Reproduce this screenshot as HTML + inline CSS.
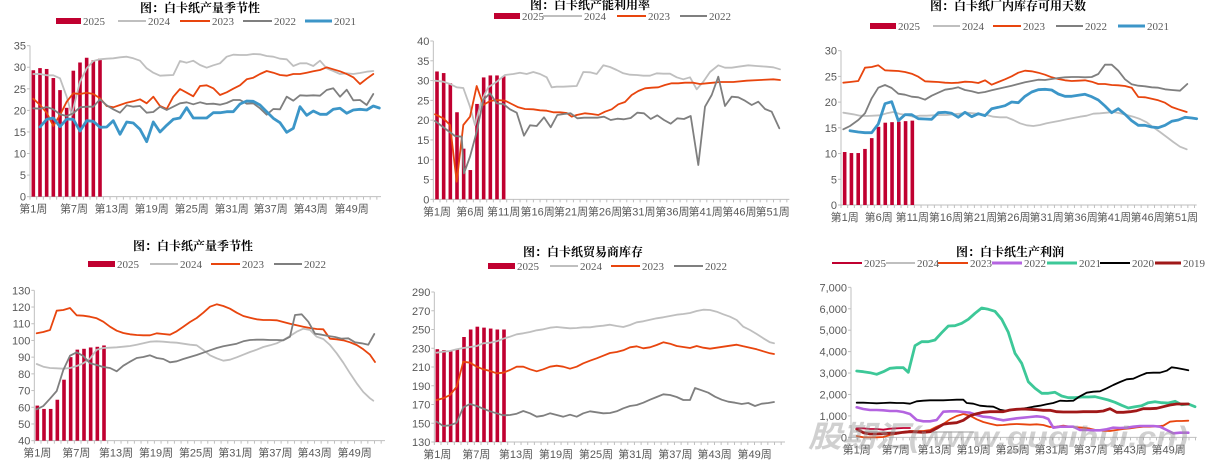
<!DOCTYPE html>
<html><head><meta charset="utf-8">
<style>
html,body{margin:0;padding:0;background:#fff;}
svg{display:block;}
.t{font-family:"Liberation Sans","Noto Sans CJK SC",sans-serif;font-size:11px;fill:#595959;}
.lg{font-family:"Liberation Serif","Noto Serif CJK SC",serif;font-size:11px;fill:#595959;}
.ti{font-family:"Liberation Serif","Noto Serif CJK SC",serif;font-size:12px;font-weight:bold;fill:#000;}
</style></head>
<body>
<svg id="s" width="1207" height="466" xmlns="http://www.w3.org/2000/svg"></svg>
<script>
const S=document.getElementById('s');let h='';
const C={r:'#C00030',g:'#BFBFBF',o:'#E8450E',d:'#7F7F7F',b:'#3C96C8',p:'#B464E0',gr:'#3DC898',k:'#000',dr:'#A01818'};
function pl(ox,oy,a,col,w){let s='';for(let i=0;i<a.length;i+=2)s+=(ox+a[i]/3).toFixed(1)+','+(oy+a[i+1]/3).toFixed(1)+' ';
h+=`<polyline points="${s}" fill="none" stroke="${col}" stroke-width="${w}" stroke-linejoin="round" stroke-linecap="round"/>`;}
function panel(c){
 const {ox,oy,axL,axR,yT,yB,vT,vB,step,xl,fmt}=c;
 const L=ox+axL/3,R=ox+axR/3,T=oy+yT/3,B=oy+yB/3;
 h+=`<line x1="${L}" y1="${T}" x2="${L}" y2="${B}" stroke="#BFBFBF" stroke-width="1"/>`;
 h+=`<line x1="${L}" y1="${B}" x2="${R}" y2="${B}" stroke="#BFBFBF" stroke-width="1"/>`;
 for(let v=vB;v<=vT+1e-9;v+=step){const y=B-(v-vB)/(vT-vB)*(B-T);
  h+=`<line x1="${L-3}" y1="${y}" x2="${L}" y2="${y}" stroke="#BFBFBF"/>`;
  h+=`<text class="t" x="${L-4}" y="${y+4}" text-anchor="end">${fmt?v.toLocaleString('en-US'):v}</text>`;}
 for(let x=L;x<=R+0.1;x+=c.dx||6.67)h+=`<line x1="${x}" y1="${B}" x2="${x}" y2="${B+3}" stroke="#BFBFBF"/>`;
 xl.forEach(([x,t])=>h+=`<text class="t" x="${ox+x/3}" y="${B+16}" text-anchor="middle">${t}</text>`);
 if(c.bars){const bw=3.6;c.bars.forEach((v,i)=>{const x=ox+(c.bx0+i*c.bdx)/3;const y=B-(v-vB)/(vT-vB)*(B-T);
  h+=`<rect x="${x-bw/2}" y="${y}" width="${bw}" height="${B-y}" fill="${C.r}"/>`;});}
 h+=`<text class="ti" x="${c.tx}" y="${c.ty}" text-anchor="middle">${c.title}</text>`;
 c.leg.forEach(([x1,x2,col,w,txt,bar])=>{const y=c.ly;
  if(bar)h+=`<rect x="${x1}" y="${y-3}" width="${x2-x1}" height="6" fill="${col}"/>`;
  else h+=`<line x1="${x1}" y1="${y}" x2="${x2}" y2="${y}" stroke="${col}" stroke-width="${w}"/>`;
  h+=`<text class="lg" x="${x2+2}" y="${y+4}">${txt}</text>`;});
}
const wk=(arr)=>arr.map(n=>'第'+n+'周');
// Panel 1
panel({ox:0,oy:0,axL:90,axR:1143,yT:137,yB:590,vT:35,vB:0,step:5,title:'图：白卡纸产量季节性',tx:200,ty:12,ly:21,
 xl:[[100,'第1周'],[222,'第7周'],[335,'第13周'],[455,'第19周'],[575,'第25周'],[695,'第31周'],[812,'第37周'],[932,'第43周'],[1055,'第49周']],
 bars:[29.3,29.8,29.6,27.5,24.7,20.6,29.2,31.1,32.2,31.6,32],bx0:100,bdx:20,
 leg:[[56,81,C.r,0,'2025',1],[118,146,C.g,2,'2024'],[180,210,C.o,2,'2023'],[243,272,C.d,2,'2022'],[305,332,C.b,3,'2021']]});
pl(0,0,[100,222,120,222,140,226,160,226,180,235,200,290,215,345,240,245,260,205,280,183,300,178,320,176,340,175,360,172,380,170,400,175,420,182,440,205,460,218,480,227,500,226,520,225,540,183,560,188,580,182,600,195,620,203,640,196,660,190,680,170,700,164,720,165,740,165,760,162,780,163,800,168,820,170,840,176,860,178,880,198,900,190,920,190,940,198,960,182,980,205,1000,213,1020,222,1040,220,1060,222,1080,219,1100,215,1120,213],C.g,1.8);
pl(0,0,[100,296,120,315,140,338,160,378,180,345,200,305,220,280,240,282,260,278,280,282,300,295,320,318,340,322,360,315,380,308,400,304,420,298,440,310,460,290,480,318,500,327,520,290,540,267,560,278,580,289,600,258,620,256,640,265,660,285,680,277,700,266,720,256,740,238,760,233,780,222,800,213,820,218,840,225,860,227,880,222,900,222,920,218,940,214,960,210,980,202,1000,208,1020,214,1040,222,1060,232,1080,252,1100,236,1120,222],C.o,1.8);
pl(0,0,[100,325,120,326,140,321,160,328,180,343,200,348,220,340,240,322,260,320,280,320,300,298,320,316,340,328,360,338,380,316,400,320,420,318,440,338,460,336,480,320,500,330,520,320,540,310,560,307,580,313,600,307,620,312,640,311,660,314,680,309,700,300,720,300,740,311,760,310,780,325,800,344,820,327,840,328,860,290,880,302,900,286,920,287,940,286,960,287,980,270,1000,265,1020,290,1040,269,1060,301,1080,300,1100,315,1120,282],C.d,1.8);
pl(0,0,[120,381,140,358,160,354,180,380,200,357,220,358,240,393,260,362,280,364,300,382,320,381,340,362,360,403,380,366,400,369,420,388,440,425,460,366,480,396,500,376,520,358,540,354,560,323,580,354,600,354,620,354,640,338,660,338,680,335,700,335,720,312,740,303,760,304,780,315,800,335,820,355,840,368,860,397,880,385,900,320,920,346,940,333,960,343,980,343,1000,328,1020,325,1040,340,1060,330,1080,328,1100,330,1120,318,1138,324],C.b,2.8);
// Panel 2
panel({ox:400,oy:0,axL:100,axR:1168,yT:123,yB:598,vT:40,vB:0,step:5,title:'图：白卡纸产能利用率',tx:590,ty:9,ly:16,
 xl:[[111,'第1周'],[211,'第6周'],[311,'第11周'],[413,'第16周'],[513,'第21周'],[615,'第26周'],[715,'第31周'],[817,'第36周'],[917,'第41周'],[1018,'第46周'],[1118,'第51周']],
 bars:[32.3,31.9,29.3,22,12.8,7.4,24.1,30.8,31.3,31.3,31.1],bx0:111,bdx:20,
 leg:[[494,520,C.r,0,'2025',1],[543,582,C.g,2,'2024'],[617,646,C.o,2,'2023'],[680,707,C.d,2,'2022']]});
pl(400,0,[105,242,130,245,150,252,170,262,190,264,210,320,225,375,245,300,265,262,290,245,315,225,340,222,360,218,380,222,400,216,420,222,440,232,455,262,470,260,490,260,510,259,530,258,550,216,570,217,590,222,610,196,630,201,650,210,670,220,690,224,710,225,730,227,750,227,770,220,790,221,810,221,830,232,850,238,870,232,890,268,910,245,930,216,955,196,975,203,995,203,1015,200,1045,196,1070,198,1100,200,1120,202,1140,208],C.g,1.8);
pl(400,0,[105,343,130,355,150,375,170,545,190,375,210,350,230,258,250,315,270,303,290,300,315,302,335,312,355,322,375,327,400,328,420,331,440,332,460,337,480,337,500,339,515,350,530,345,555,340,575,342,595,345,615,335,635,328,655,313,675,306,695,285,715,273,735,265,755,263,775,262,795,255,815,250,835,250,855,248,880,248,900,252,920,250,940,248,960,246,1000,246,1040,242,1080,240,1120,238,1140,240],C.o,1.8);
pl(400,0,[105,363,125,378,145,393,165,408,185,410,192,520,210,470,230,395,250,300,270,280,290,310,310,312,330,328,350,338,372,407,390,376,410,378,432,352,452,382,472,345,492,342,512,340,532,355,552,353,572,353,592,353,612,350,632,360,652,356,672,358,692,354,712,338,732,340,752,357,772,346,792,360,812,371,832,355,852,357,872,348,895,495,915,320,935,285,955,230,975,318,995,290,1015,292,1035,302,1055,315,1075,305,1095,327,1115,335,1138,385],C.d,1.8);
// Panel 3
panel({ox:800,oy:0,axL:123,axR:1190,yT:152,yB:615,vT:30,vB:0,step:5,title:'图：白卡纸厂内库存可用天数',tx:1008,ty:10,ly:26,
 xl:[[134,'第1周'],[236,'第6周'],[337,'第11周'],[438,'第16周'],[540,'第21周'],[640,'第26周'],[740,'第31周'],[842,'第36周'],[942,'第41周'],[1043,'第46周'],[1143,'第51周']],
 bars:[10.3,10.1,10.1,10.9,13,15.2,16,16.1,16.2,16.3,16.4],bx0:134,bdx:20.3,
 leg:[[870,896,C.r,0,'2025',1],[933,960,C.g,2,'2024'],[993,1021,C.o,2,'2023'],[1056,1083,C.d,2,'2022'],[1118,1145,C.b,3,'2021']]});
pl(800,0,[130,338,160,343,180,347,200,348,220,347,240,346,260,340,280,336,300,342,320,345,340,350,360,347,380,347,400,346,420,345,440,345,460,343,480,341,500,338,520,340,540,342,560,345,580,350,600,352,620,352,640,360,660,370,680,376,700,378,720,375,740,370,760,366,780,362,800,358,820,354,840,350,860,347,880,341,900,340,920,338,940,336,960,340,980,345,1000,350,1020,357,1040,367,1060,382,1080,396,1100,411,1120,426,1140,440,1160,448],C.g,1.8);
pl(800,0,[130,248,150,246,175,243,195,203,215,201,235,196,255,211,275,212,295,213,315,216,335,221,355,230,375,244,395,245,415,246,435,248,455,249,475,248,495,245,515,246,535,249,555,241,575,254,595,246,615,238,635,229,655,218,675,212,695,214,715,218,735,224,755,232,775,237,795,241,815,243,835,242,855,241,875,245,895,252,915,252,935,255,955,256,975,258,995,263,1015,291,1035,292,1055,296,1075,301,1095,308,1115,321,1135,328,1160,336],C.o,1.8);
pl(800,0,[130,388,150,378,175,360,195,340,215,295,235,263,255,255,275,264,295,281,315,284,335,290,355,292,375,299,395,287,415,278,435,269,455,266,475,262,495,270,515,274,535,279,555,276,575,271,595,266,615,262,635,257,655,252,675,247,695,243,715,239,735,240,755,237,775,234,795,232,815,231,835,231,855,232,875,231,895,222,915,194,935,194,955,212,975,238,995,253,1015,257,1035,259,1055,262,1075,263,1095,268,1115,270,1140,272,1162,252],C.d,1.8);
pl(800,0,[150,392,175,396,195,398,215,398,235,372,255,311,275,305,295,362,315,344,335,344,355,356,375,357,395,358,415,338,435,337,455,340,475,352,495,337,515,350,535,341,555,347,575,326,595,322,615,317,635,306,655,308,675,289,695,276,715,269,735,268,755,270,775,282,795,289,815,289,835,286,855,283,875,290,895,300,915,318,935,338,955,326,975,343,995,362,1015,376,1035,376,1055,381,1075,383,1095,376,1115,364,1135,360,1155,352,1175,354,1190,356],C.b,2.8);
// Panel 4
panel({ox:0,oy:230,axL:103,axR:1155,yT:181,yB:632,vT:130,vB:40,step:10,title:'图：白卡纸产量季节性',tx:193,ty:250,ly:264,
 xl:[[112,'第1周'],[229,'第7周'],[348,'第13周'],[468,'第19周'],[588,'第25周'],[706,'第31周'],[826,'第37周'],[944,'第43周'],[1064,'第49周']],
 bars:[61,59,59,64.5,76.5,90,94.5,95,95.8,96.2,97],bx0:112,bdx:20,
 leg:[[88,115,C.r,0,'2025',1],[150,178,C.g,2,'2024'],[211,240,C.o,2,'2023'],[274,302,C.d,2,'2022']]});
pl(0,230,[110,402,130,410,150,414,170,415,190,416,210,414,230,408,250,400,270,386,290,359,310,354,330,353,350,352,370,350,390,348,410,344,430,340,450,335,470,334,490,335,510,337,530,338,550,341,570,344,590,346,610,360,630,376,650,385,670,392,690,389,710,382,730,374,750,366,770,359,790,351,810,346,830,340,850,330,870,318,890,305,910,296,930,300,950,320,970,327,990,345,1010,370,1030,398,1050,430,1070,460,1090,486,1110,505,1120,512],C.g,1.8);
pl(0,230,[110,310,130,306,150,300,170,242,190,240,210,234,230,256,250,257,270,260,290,265,310,275,330,290,350,302,370,309,390,313,410,315,430,316,450,316,470,310,490,312,510,314,530,304,550,290,570,276,590,264,610,248,630,230,650,223,670,228,690,236,710,248,730,258,750,263,770,268,790,270,810,270,830,271,850,276,870,281,890,286,910,290,930,294,950,297,970,298,990,326,1010,328,1030,331,1050,337,1070,345,1090,358,1110,374,1125,396],C.o,1.8);
pl(0,230,[110,538,130,528,150,506,170,483,190,420,210,377,230,367,250,378,270,400,290,405,310,411,330,414,350,424,370,407,390,395,410,384,430,381,450,376,470,384,490,387,510,397,530,394,550,387,570,381,590,375,610,368,630,361,650,354,670,349,690,345,710,341,730,334,750,330,770,329,790,329,810,330,830,330,850,331,870,320,885,255,905,253,925,275,945,311,965,314,985,318,1005,321,1025,326,1045,325,1065,337,1085,340,1105,344,1123,312],C.d,1.8);
// Panel 5
panel({ox:400,oy:230,axL:103,axR:1155,yT:186,yB:636,vT:290,vB:130,step:20,title:'图：白卡纸贸易商库存',tx:583,ty:256,ly:266,
 xl:[[112,'第1周'],[229,'第7周'],[348,'第13周'],[468,'第19周'],[588,'第25周'],[706,'第31周'],[826,'第37周'],[944,'第43周'],[1064,'第49周']],
 bars:[229,228,227,229,242,250,253,252,251,250,250],bx0:112,bdx:20,
 leg:[[488,515,C.r,0,'2025',1],[550,578,C.g,2,'2024'],[611,640,C.o,2,'2023'],[674,703,C.d,2,'2022']]});
pl(400,230,[110,368,130,365,150,363,170,358,190,354,210,351,230,348,250,340,270,338,290,334,310,326,330,320,350,313,370,310,390,306,410,301,430,298,450,293,470,291,490,293,510,295,530,294,550,292,570,292,590,289,610,287,630,284,650,288,670,291,690,285,710,277,730,274,750,269,770,265,790,262,810,258,830,254,850,252,870,249,890,243,910,239,930,240,950,245,970,253,990,260,1010,270,1030,290,1050,300,1070,312,1090,325,1110,337,1122,340],C.g,1.8);
pl(400,230,[110,510,130,505,150,495,170,470,190,395,210,398,230,410,250,418,270,423,290,430,310,428,330,420,350,410,370,410,390,418,410,424,430,418,450,410,470,407,490,410,510,416,530,410,550,400,570,392,590,385,610,377,630,369,650,366,670,361,690,352,710,349,730,355,750,352,770,345,790,337,810,341,830,348,850,351,870,354,890,348,910,353,930,356,950,353,970,350,990,347,1010,344,1030,349,1050,353,1070,358,1090,364,1110,370,1122,372],C.o,1.8);
pl(400,230,[110,575,130,588,150,586,170,578,190,532,210,522,230,528,250,536,270,544,290,550,310,556,330,555,350,551,370,543,390,550,410,560,430,557,450,550,470,555,490,560,510,554,530,560,550,550,570,544,590,547,610,550,630,549,650,544,670,535,690,528,710,525,730,518,750,509,770,501,790,493,810,495,830,501,850,510,870,510,885,474,905,481,925,488,945,500,965,509,985,515,1005,518,1025,522,1045,519,1065,528,1085,521,1105,519,1122,516],C.d,1.8);
// Panel 6
panel({ox:800,oy:230,axL:153,axR:1190,yT:172,yB:622,vT:7000,vB:0,step:1000,fmt:1,dx:6.5,title:'图：白卡纸生产利润',tx:1010,ty:256,ly:263,
 xl:[[170,'第1周'],[287,'第7周'],[404,'第13周'],[521,'第19周'],[638,'第25周'],[755,'第31周'],[872,'第37周'],[989,'第43周'],[1106,'第49周']],
 leg:[[832,862,C.r,2,'2025'],[886,915,C.g,2,'2024'],[938,968,C.o,2,'2023'],[992,1022,C.p,3,'2022'],[1047,1077,C.gr,3,'2021'],[1100,1130,C.k,2,'2020'],[1155,1181,C.dr,3,'2019']]});
pl(800,230,[170,604,250,606,350,606,450,606,520,606],C.g,1.5);
pl(800,230,[170,618,190,622,210,622,230,622,250,621,270,615,290,611,310,606,330,603,350,603,370,603,390,600,410,590,430,582,450,568,470,558,490,552,510,557,530,568,550,576,570,581,590,586,610,585,630,583,650,582,670,583,690,584,710,583,730,585,750,591,770,590,790,587,810,590,830,592,850,593,870,596,890,601,910,602,930,603,950,600,970,597,990,595,1010,592,1030,590,1050,590,1070,589,1090,587,1110,575,1130,573,1145,573,1165,572],C.o,1.8);
pl(800,230,[170,532,190,537,210,540,230,540,250,541,270,543,290,543,310,546,330,552,350,570,370,574,390,574,410,570,430,545,450,544,470,544,490,546,510,548,530,555,550,560,570,562,590,567,610,571,630,568,650,565,670,563,690,561,710,559,730,561,745,567,760,593,780,590,800,590,820,590,840,600,860,600,880,601,900,601,920,598,940,593,960,594,980,593,1000,590,1020,588,1040,588,1060,588,1080,590,1100,600,1120,610,1140,608,1165,608],C.p,2.6);
pl(800,230,[170,423,190,425,210,428,230,433,250,425,270,415,290,413,310,413,325,427,345,347,365,335,385,335,405,330,425,308,445,288,465,287,485,280,505,268,525,250,545,234,565,238,585,244,605,268,625,307,645,370,665,400,685,455,705,475,725,490,745,490,765,487,785,498,805,503,825,503,845,501,865,501,885,500,905,505,925,510,945,517,965,526,985,534,1005,530,1025,527,1045,518,1065,515,1085,518,1105,519,1125,514,1145,524,1165,522,1185,530],C.gr,2.8);
pl(800,230,[170,518,190,518,210,519,230,520,250,519,270,518,290,519,310,519,330,521,350,514,370,512,390,511,410,511,430,511,450,510,470,509,490,509,500,519,520,521,540,527,560,529,580,530,600,539,620,543,640,539,660,537,680,534,700,530,720,527,740,523,760,519,780,512,800,513,820,512,840,499,860,488,880,485,900,484,920,475,940,465,960,456,980,448,1000,446,1020,437,1040,429,1060,428,1080,428,1100,422,1115,412,1130,414,1150,418,1165,421],C.k,1.8);
pl(800,230,[170,597,190,608,210,612,230,612,250,611,270,610,290,610,310,607,330,605,350,606,370,607,390,605,410,595,430,583,450,580,470,578,490,571,510,557,530,551,550,547,570,545,590,545,610,545,630,540,650,538,670,537,690,538,710,539,730,541,750,541,770,545,790,546,810,546,830,546,850,545,870,545,890,545,910,543,930,536,950,547,970,547,990,545,1010,542,1030,536,1050,536,1070,535,1090,530,1110,525,1130,522,1145,522,1165,522],C.dr,2.8);
pl(800,230,[170,595,190,595,210,597,230,597,250,599,270,596,290,595,310,594,330,594],C.r,1.8);
h+=`<text x="808" y="447" font-family="Liberation Sans,'Noto Sans CJK SC',sans-serif" font-size="30" font-weight="bold" font-style="italic" fill="rgba(150,150,150,0.45)" textLength="380" lengthAdjust="spacingAndGlyphs">股期汇(www.guqihui.cn)</text>`;
S.innerHTML=h;
</script>
</body></html>
